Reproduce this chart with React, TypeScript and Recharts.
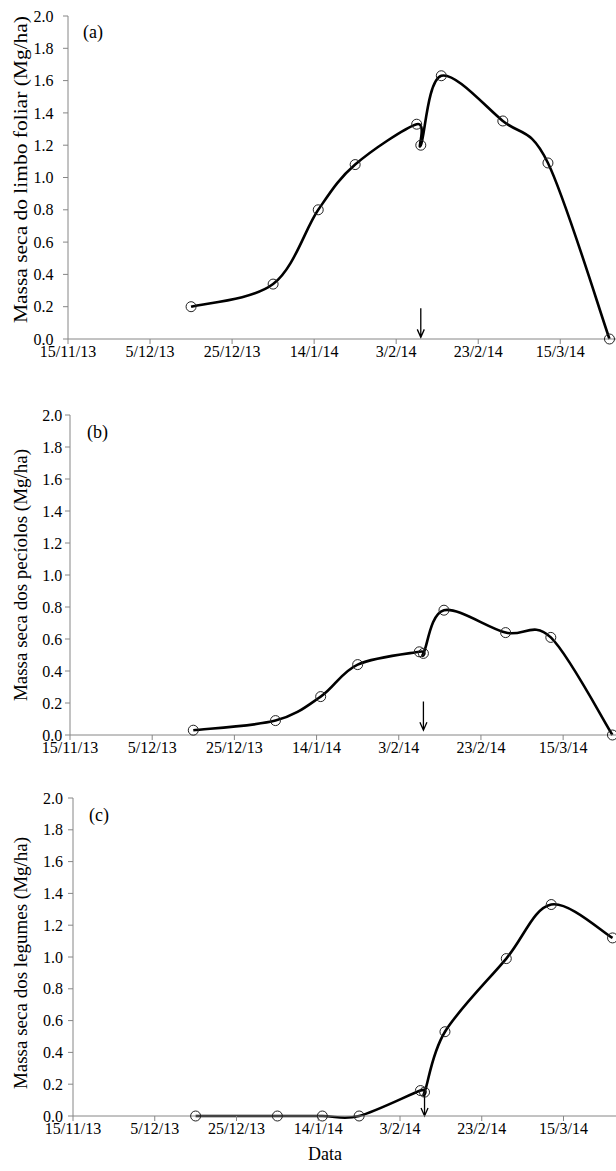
import React from 'react';
import { LineChart, Line, XAxis, YAxis, ReferenceLine } from 'recharts';

// sampling dates, as days after 15/11/13
const sampleDays = [30, 50, 61, 70, 85, 86, 91, 106, 117, 132];

// dry mass (Mg/ha) per panel
const limboFoliar = [0.2, 0.34, 0.8, 1.08, 1.33, 1.2, 1.63, 1.35, 1.09, 0.0];
const peciolos = [0.03, 0.09, 0.24, 0.44, 0.52, 0.51, 0.78, 0.64, 0.61, 0.0];
const legumes = [0.0, 0.0, 0.0, 0.0, 0.16, 0.15, 0.53, 0.99, 1.33, 1.12];

const xTickDays = [0, 20, 40, 60, 80, 100, 120];
const xTickLabels = ['15/11/13', '5/12/13', '25/12/13', '14/1/14', '3/2/14', '23/2/14', '15/3/14'];
const yTicks = [0, 0.2, 0.4, 0.6, 0.8, 1.0, 1.2, 1.4, 1.6, 1.8, 2.0];

// the arrow marks the same day in every panel
const arrowDay = 86;
const arrowFrom = [0.19, 0.21, 0.16];
const arrowTo = [0.01, 0.03, 0.0];

const AXIS_GREY = '#868686';
const SERIF = '"Liberation Serif", "Times New Roman", Times, serif';
const textStyle = { fontFamily: SERIF };

/**
 * Smoothed line like the spreadsheet one (Catmull-Rom turned into beziers)
 */
function excelSmooth(context: any) {
  let pts: number[][] = [];
  return {
    areaStart() {},
    areaEnd() {},
    lineStart() {
      pts = [];
    },
    point(x: number, y: number) {
      pts.push([+x, +y]);
    },
    lineEnd() {
      const n = pts.length;
      if (!n) return;
      context.moveTo(pts[0][0], pts[0][1]);
      for (let i = 0; i < n - 1; i++) {
        const p0 = pts[i - 1] || pts[i];
        const p1 = pts[i];
        const p2 = pts[i + 1];
        const p3 = pts[i + 2] || pts[i + 1];
        context.bezierCurveTo(
          p1[0] + (p2[0] - p0[0]) / 6,
          p1[1] + (p2[1] - p0[1]) / 6,
          p2[0] - (p3[0] - p1[0]) / 6,
          p2[1] - (p3[1] - p1[1]) / 6,
          p2[0],
          p2[1]
        );
      }
    },
  };
}

function ArrowShape(props: any) {
  const { x1, y1, x2, y2 } = props;
  return (
    <path
      d={`M${x1},${y1} L${x2},${y2} M${x2 - 3.5},${y2 - 8} L${x2},${y2} L${x2 + 3.5},${y2 - 8}`}
      stroke="#000"
      strokeWidth={1.3}
      fill="none"
    />
  );
}

function XTick(props: any) {
  const { x, y, payload } = props;
  const label = xTickLabels[xTickDays.indexOf(payload.value)] ?? '';
  return (
    <text x={x} y={y} dy="0.71em" textAnchor="middle" fontSize={16} fill="#000" style={textStyle}>
      {label}
    </text>
  );
}

function YTick(props: any) {
  const { x, y, payload } = props;
  return (
    <text x={x} y={y} dy="0.355em" textAnchor="end" fontSize={16} fill="#000" style={textStyle}>
      {Number(payload.value).toFixed(1)}
    </text>
  );
}

interface PanelProps {
  values: number[];
  index: number;
  tag: string;
  title: string;
  top: number;
  plotLeft: number;
  plotTop: number;
  plotW: number;
  plotH: number;
  yTickMargin: number;
  titleX: number;
  titleY: number;
  titleLength?: number;
  tagLeft: number;
  tagTop: number;
  showXTitle?: boolean;
}

function Panel(p: PanelProps) {
  const data = sampleDays.map((day, i) => ({ day, value: p.values[i] }));
  const xAxisHeight = p.showXTitle ? 55 : 30;
  const width = p.plotLeft + p.plotW + 10;
  const height = p.plotTop + p.plotH + xAxisHeight;

  return (
    <div style={{ position: 'absolute', left: 0, top: p.top }}>
      <LineChart
        width={width}
        height={height}
        data={data}
        margin={{ top: p.plotTop, right: 10, bottom: 0, left: 0 }}
      >
        <XAxis
          type="number"
          dataKey="day"
          domain={[0, 137]}
          ticks={xTickDays}
          height={xAxisHeight}
          axisLine={{ stroke: AXIS_GREY }}
          tickLine={{ stroke: AXIS_GREY }}
          tickSize={5}
          tickMargin={2}
          tick={<XTick />}
          interval={0}
          label={
            p.showXTitle
              ? {
                  content: () => (
                    <text x={325} y={390} textAnchor="middle" fontSize={18} fill="#000" style={textStyle}>
                      Data
                    </text>
                  ),
                }
              : undefined
          }
        />
        <YAxis
          type="number"
          domain={[0, 2]}
          ticks={yTicks}
          width={p.plotLeft}
          axisLine={{ stroke: AXIS_GREY }}
          tickLine={{ stroke: AXIS_GREY }}
          tickSize={5}
          tickMargin={p.yTickMargin}
          tick={<YTick />}
          interval={0}
          label={{
            content: () => (
              <text
                x={p.titleX}
                y={p.titleY}
                transform={`rotate(-90 ${p.titleX} ${p.titleY})`}
                textAnchor="middle"
                fontSize={19}
                fill="#000"
                style={textStyle}
                textLength={p.titleLength}
                lengthAdjust={p.titleLength ? 'spacingAndGlyphs' : undefined}
              >
                {p.title}
              </text>
            ),
          }}
        />
        <Line
          type={excelSmooth as any}
          dataKey="value"
          stroke="#000"
          strokeWidth={2.6}
          dot={{ r: 5, stroke: '#222', strokeWidth: 1, fill: 'none' }}
          activeDot={false}
          isAnimationActive={false}
        />
        <ReferenceLine
          segment={[
            { x: arrowDay, y: arrowFrom[p.index] },
            { x: arrowDay, y: arrowTo[p.index] },
          ]}
          shape={ArrowShape}
        />
      </LineChart>
      <span
        style={{
          position: 'absolute',
          left: p.tagLeft,
          top: p.tagTop,
          fontSize: 18,
          lineHeight: '18px',
          fontFamily: SERIF,
        }}
      >
        {p.tag}
      </span>
    </div>
  );
}

export default function App() {
  return (
    <div
      style={{
        position: 'absolute',
        left: 0,
        top: 0,
        width: 616,
        height: 1171,
        overflow: 'hidden',
        background: '#fff',
        fontFamily: SERIF,
      }}
    >
      <Panel
        values={limboFoliar}
        index={0}
        tag="(a)"
        title="Massa seca do limbo foliar  (Mg/ha)"
        top={0}
        plotLeft={68}
        plotTop={16}
        plotW={562}
        plotH={323}
        yTickMargin={9.5}
        titleX={26.7}
        titleY={169.5}
        titleLength={307}
        tagLeft={83}
        tagTop={23}
      />
      <Panel
        values={peciolos}
        index={1}
        tag="(b)"
        title="Massa seca dos pecíolos (Mg/ha)"
        top={380}
        plotLeft={70}
        plotTop={35}
        plotW={563}
        plotH={320}
        yTickMargin={2.7}
        titleX={26.7}
        titleY={195}
        tagLeft={87}
        tagTop={43}
      />
      <Panel
        values={legumes}
        index={2}
        tag="(c)"
        title="Massa seca dos legumes (Mg/ha)"
        top={770}
        plotLeft={73}
        plotTop={28}
        plotW={560}
        plotH={318}
        yTickMargin={5}
        titleX={27.3}
        titleY={193}
        tagLeft={89}
        tagTop={36}
        showXTitle
      />
    </div>
  );
}
